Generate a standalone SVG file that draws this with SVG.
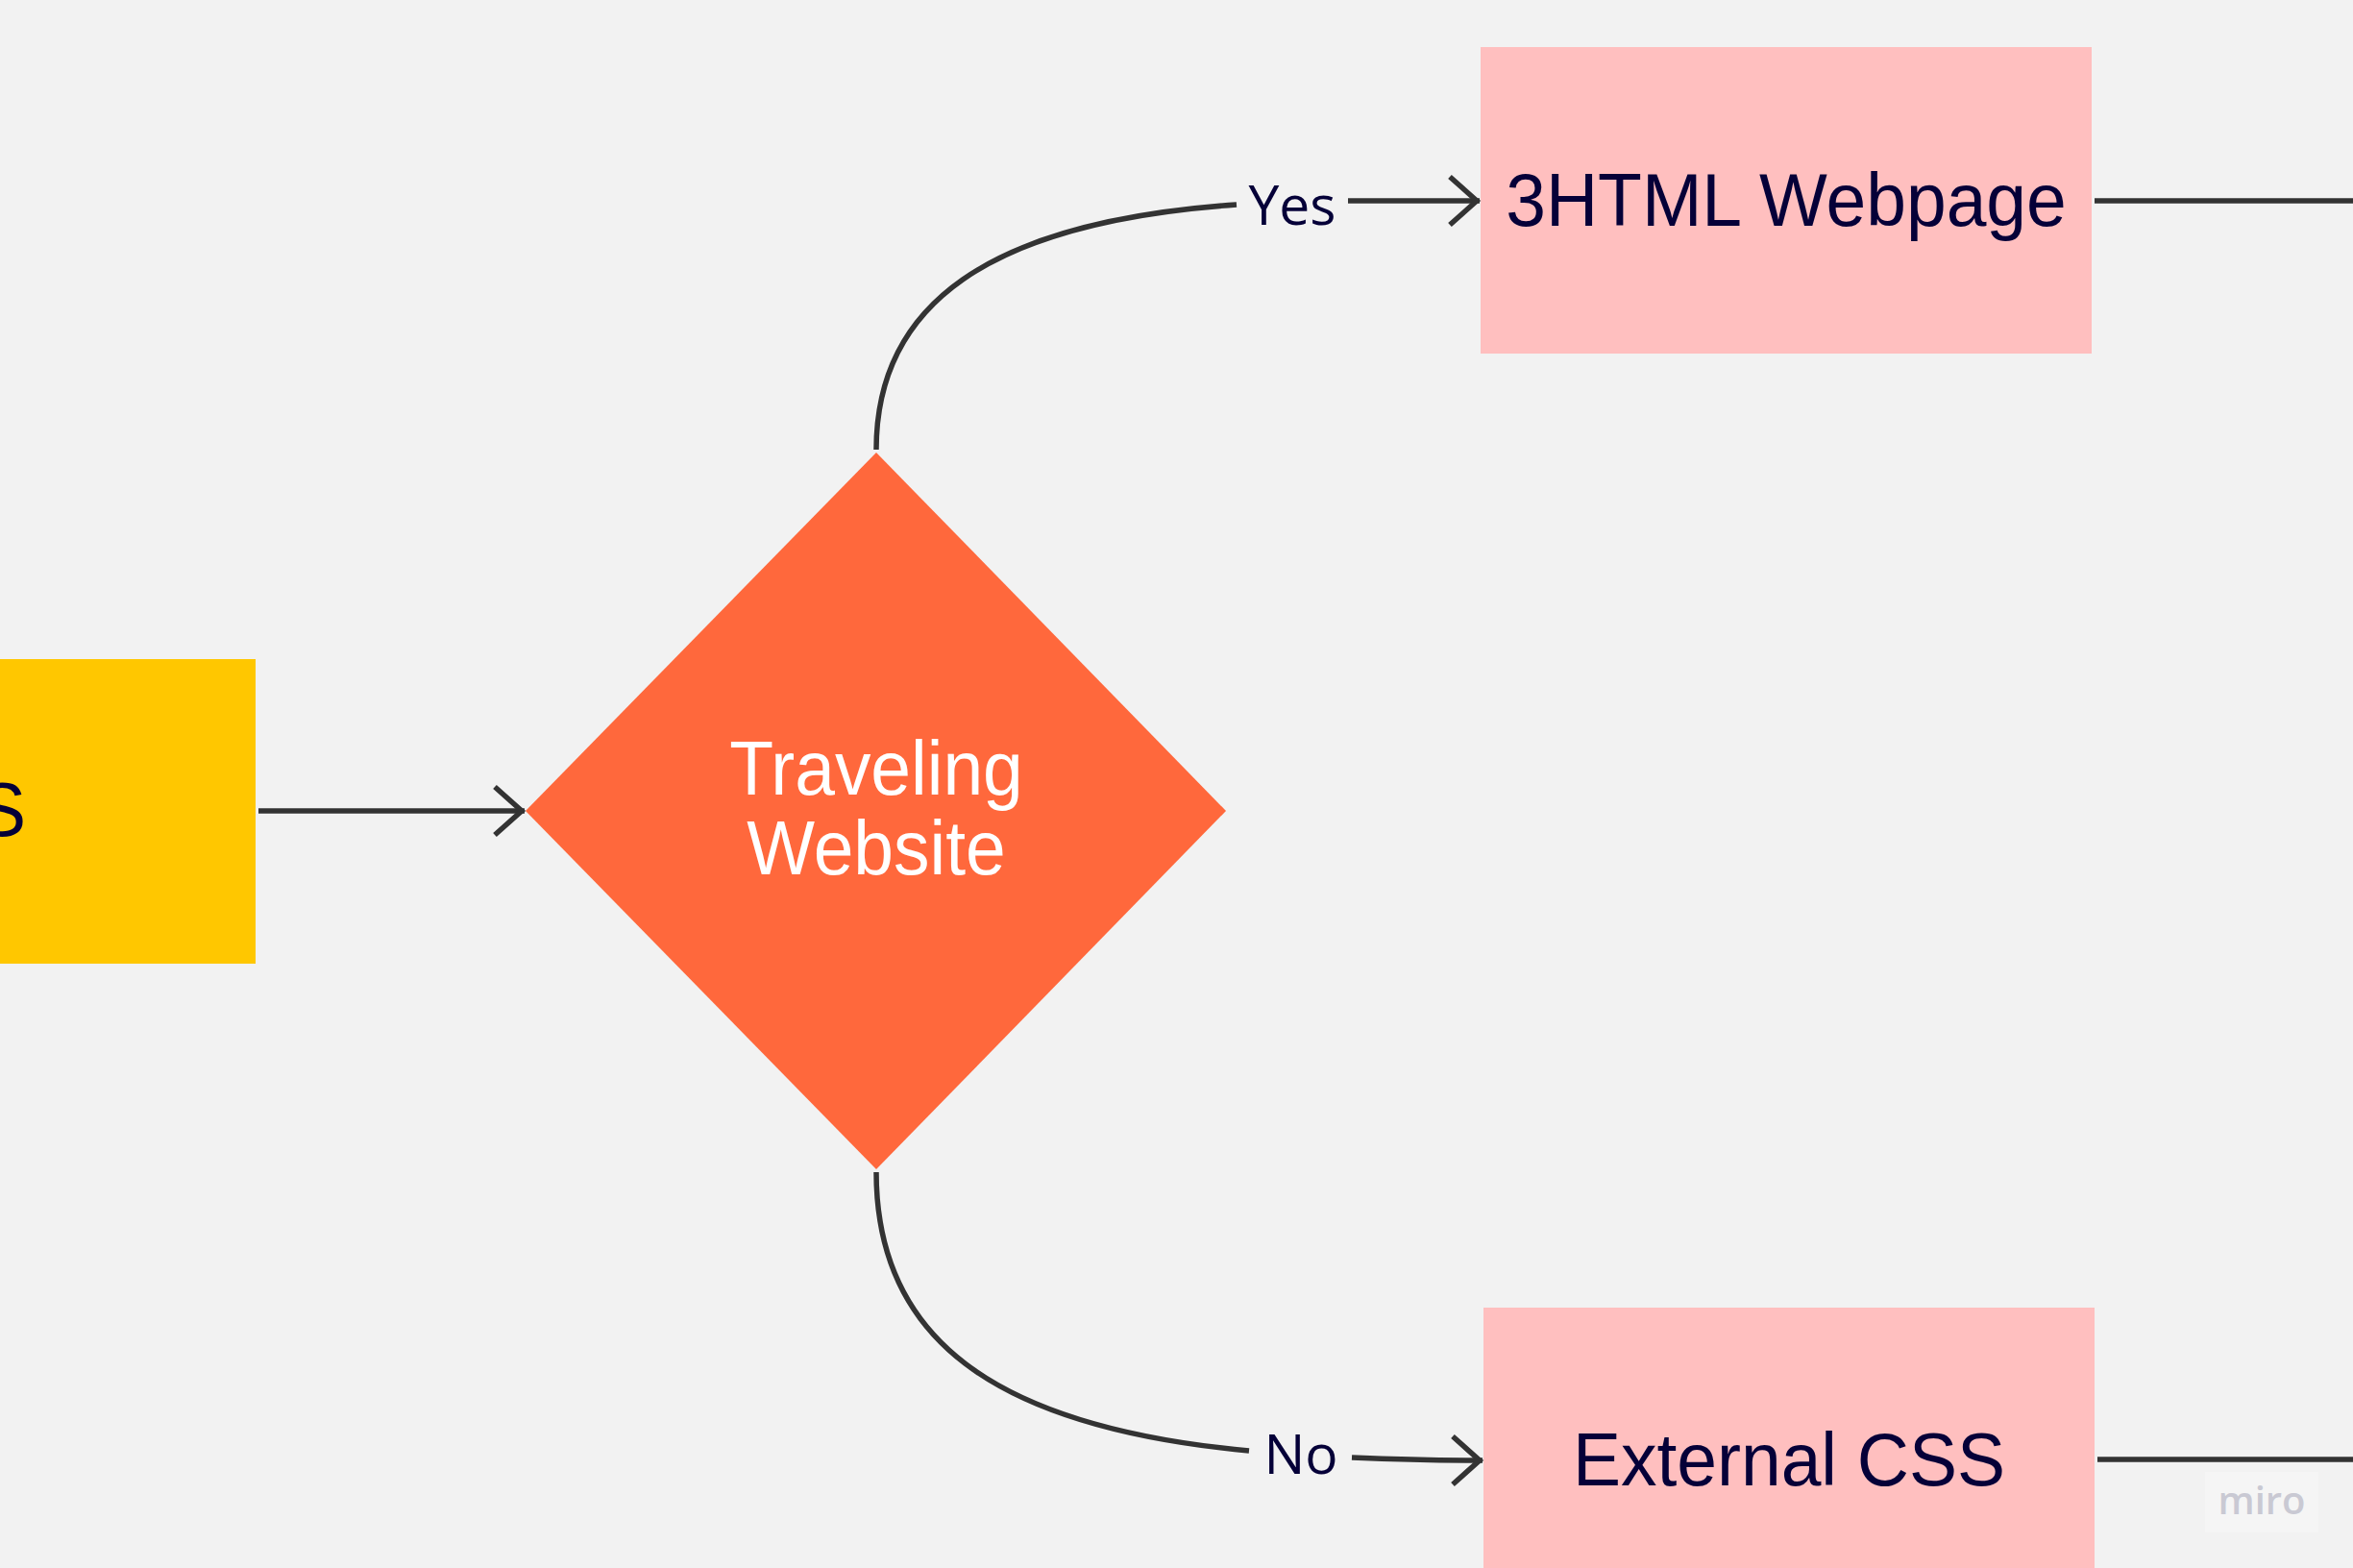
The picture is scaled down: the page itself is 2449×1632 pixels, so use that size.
<svg xmlns="http://www.w3.org/2000/svg" width="2449" height="1632" viewBox="0 0 2449 1632">
<defs>
<style>
.conn{fill:none;stroke:#333333;stroke-width:5.5;stroke-linecap:butt}
.big{font-family:"Liberation Sans",Arial,sans-serif;font-size:75px;fill:#050038}
.lbl{font-family:"Open Sans","Noto Sans",sans-serif;font-size:57px;fill:#050038;text-anchor:middle}
</style>
<marker id="arr" markerUnits="userSpaceOnUse" viewBox="-34 -30 40 60" markerWidth="40" markerHeight="60" refX="0" refY="0" orient="auto" overflow="visible">
<path d="M -31 -25 L -3 0 L -31 25" fill="none" stroke="#333333" stroke-width="5.5" stroke-linejoin="miter"/>
</marker>
</defs>
<rect x="0" y="0" width="2449" height="1632" fill="#f2f2f2"/>
<g id="node-start">
<rect x="0" y="686" width="266" height="317" fill="#ffc700"/>
<text class="big" x="27" y="870" text-anchor="end" transform="translate(0,870) scale(1,1.05) translate(0,-870)">S</text>
</g>
<g id="node-decision">
<polygon points="912,471 1276,844 912,1217 547,844" fill="#ff683c"/>
<g transform="translate(0,844) scale(1,1.05) translate(0,-844)">
<text x="912" y="828" font-family="Liberation Sans, Arial, sans-serif" font-size="75" fill="#ffffff" text-anchor="middle">Traveling</text>
<text x="912" y="907" font-family="Liberation Sans, Arial, sans-serif" font-size="75" fill="#ffffff" text-anchor="middle">Website</text>
</g>
</g>
<g id="node-html">
<rect x="1541" y="49" width="636" height="319" fill="#ffbfbf"/>
<text class="big" x="1859" y="234" text-anchor="middle" transform="translate(0,210) scale(1,1.04) translate(0,-210)">3HTML Webpage</text>
</g>
<g id="node-css">
<rect x="1544" y="1361" width="636" height="280" fill="#ffbfbf"/>
<text class="big" x="1862" y="1545" text-anchor="middle" transform="translate(0,1519) scale(1,1.04) translate(0,-1519)">External CSS</text>
</g>
<g id="connectors">
<path class="conn" d="M 269 844 L 546 844" marker-end="url(#arr)"/>
<path class="conn" d="M 912 468 C 912 318, 1027 231, 1287 213"/>
<path class="conn" d="M 1403 209 L 1540 209" marker-end="url(#arr)"/>
<text class="lbl" x="1345" y="234">Yes</text>
<path class="conn" d="M 912 1220 C 912 1390, 1030 1485, 1300 1510"/>
<path class="conn" d="M 1407 1517 Q 1480 1520 1543 1520" marker-end="url(#arr)"/>
<text class="lbl" x="1354" y="1534">No</text>
<path class="conn" d="M 2180 209 L 2449 209"/>
<path class="conn" d="M 2183 1519 L 2449 1519"/>
</g>
<g id="watermark">
<rect x="2295" y="1532" width="118" height="63" fill="#f5f5f5"/>
<text x="2354" y="1576" font-family="Open Sans, Noto Sans, sans-serif" font-size="40" font-weight="600" fill="#c9c9d3" text-anchor="middle">miro</text>
</g>
</svg>
